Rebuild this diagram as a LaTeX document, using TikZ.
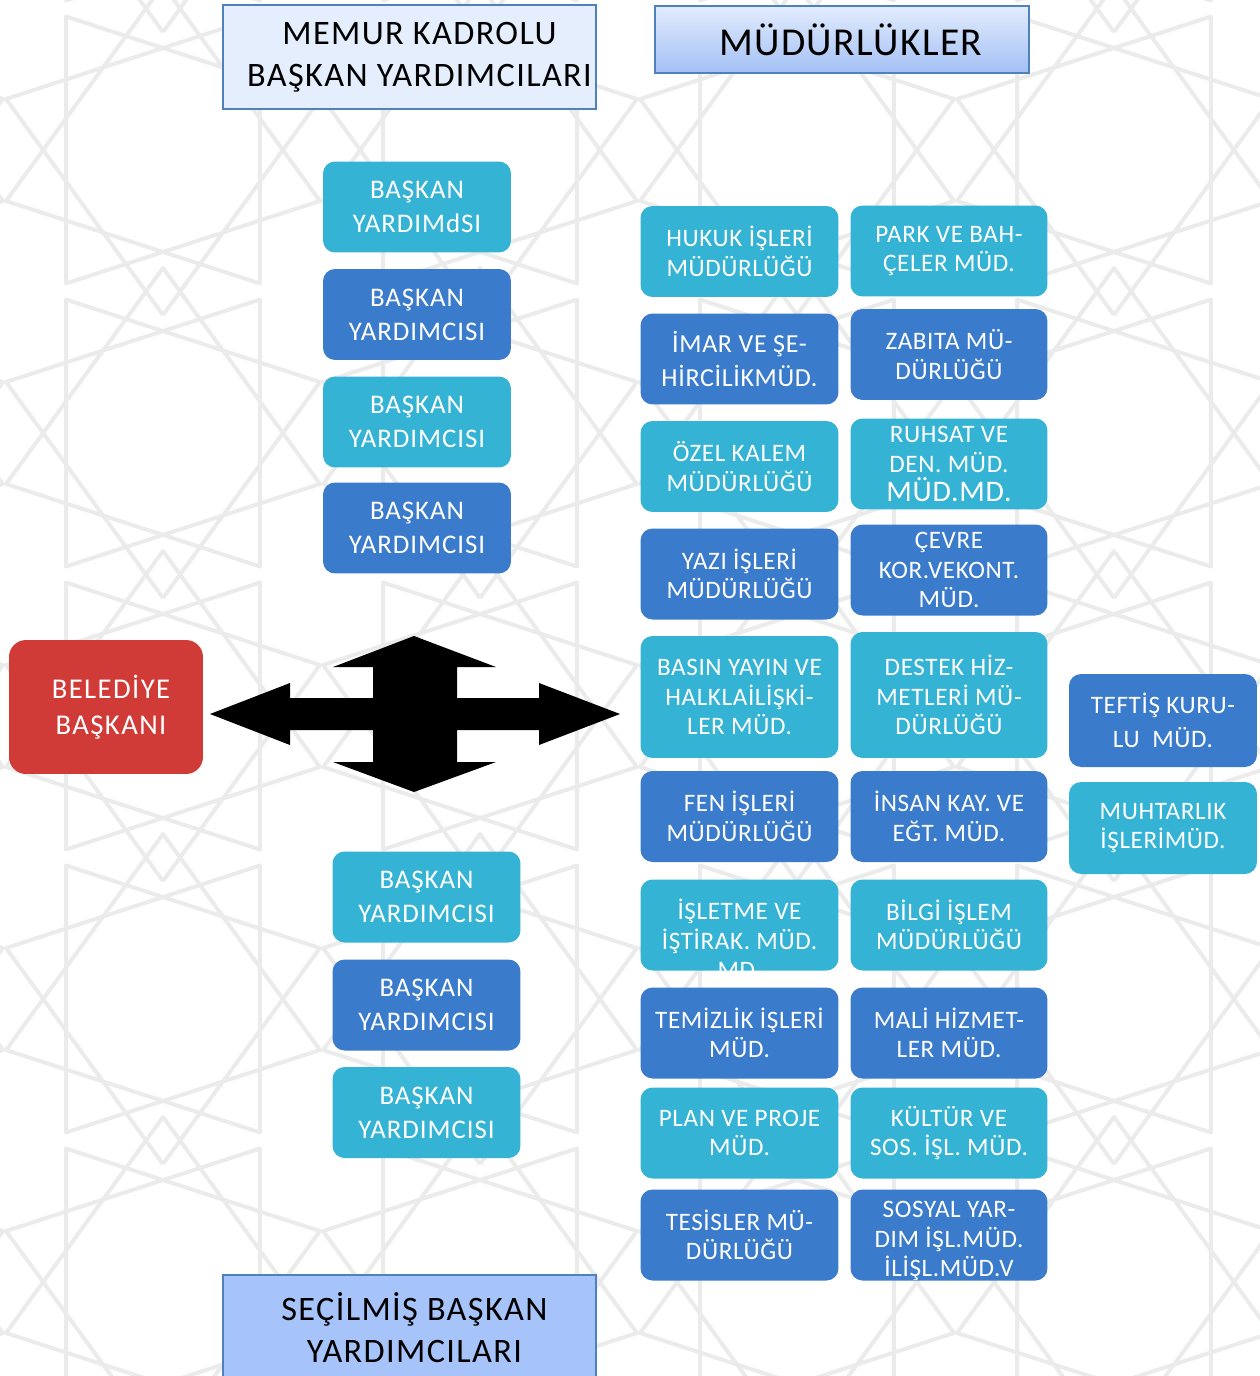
\documentclass[tikz,border=0pt]{standalone}
\usepackage{fontspec}
\setmainfont{Carlito}[LetterSpace=2.5]
\definecolor{mcyan}{HTML}{35B3D5}
\definecolor{mblue}{HTML}{3B7BCB}
\definecolor{mred}{HTML}{D03B38}
\definecolor{hdrline}{HTML}{4F81BD}
\definecolor{hdrfill}{HTML}{E4EEFD}
\definecolor{hdrtop}{HTML}{E2ECFD}
\definecolor{hdrbot}{HTML}{A3C0F4}
\definecolor{selfill}{HTML}{A6C4FA}
\definecolor{patgray}{HTML}{EBEBEB}
\tikzset{
  patline/.style={line width=0.08cm,patgray,line join=round},
  unit/.style={rounded corners=0.24cm,text=white,align=center,inner sep=0pt,
    minimum height=1.82cm,font=\fontsize{14.3}{16.8}\selectfont},
  cyanunit/.style={unit,fill=mcyan},
  blueunit/.style={unit,fill=mblue},
  colA/.style={minimum width=3.96cm},
  colB/.style={minimum width=3.94cm},
  colC/.style={minimum width=3.76cm},
  yard/.style={minimum width=3.76cm,font=\fontsize{15.3}{19.4}\selectfont\addfontfeatures{LetterSpace=3.5}},
  hdrbox/.style={draw=hdrline,line width=0.04cm,align=center,inner sep=0pt,
    font=\fontsize{19.5}{23.8}\selectfont\addfontfeatures{LetterSpace=4}}
}
\begin{document}
\begin{tikzpicture}[x=0.02cm,y=-0.02cm]
    \useasboundingbox (0,0) rectangle (1260,1376);
    \clip (0,0) rectangle (1260,1376);
    % Background pattern
    \foreach \px in {-154,163,480,797,1114,1431}
      \foreach \py in {-133,150,433,716,999,1282,1565}
        \draw[patline,shift={(\px,\py)}] (90:165) \foreach \k in {1,...,10} { -- ({90+108*\k}:165) };
    % Headers
    \node[hdrbox,fill=hdrfill,minimum width=7.46cm,minimum height=2.08cm] (memur) at (409.5,57) {\hspace*{0.4cm}MEMUR KADROLU\\\hspace*{0.4cm}BAŞKAN YARDIMCILARI};
    \node[hdrbox,top color=hdrtop,bottom color=hdrbot,minimum width=7.48cm,minimum height=1.34cm,
      font=\fontsize{22.5}{26}\selectfont\addfontfeatures{LetterSpace=3.5}] (mudur) at (842,39.5) {\hspace*{0.35cm}MÜDÜRLÜKLER};
    \node[hdrbox,fill=selfill,minimum width=7.46cm,minimum height=2.12cm] (secil) at (409.5,1328) {\hspace*{0.2cm}SEÇİLMİŞ BAŞKAN\\\hspace*{0.2cm}YARDIMCILARI};
    % Mayor
    \node[unit,fill=mred,rounded corners=0.34cm,minimum width=3.88cm,minimum height=2.68cm,
      font=\fontsize{16.3}{20.4}\selectfont\addfontfeatures{LetterSpace=5}] (baskan) at (106,707) {\hspace*{0.2cm}BELEDİYE\\\hspace*{0.2cm}BAŞKANI};
    % Cross arrow
    \fill[black] (210,714) -- (290,683) -- (290,698) -- (539,698) -- (539,683) -- (620,714)
      -- (539,745) -- (539,730) -- (290,730) -- (290,745) -- cycle;
    \fill[black] (414,636) -- (496,667) -- (457,667) -- (457,762) -- (496,762) -- (414,792)
      -- (333,762) -- (373,762) -- (373,667) -- (333,667) -- cycle;
    % Memur kadrolu deputies
    \node[cyanunit,yard] (by1) at (417,207) {BAŞKAN\\YARDIMdSI};
    \node[blueunit,yard] (by2) at (417,314.5) {BAŞKAN\\YARDIMCISI};
    \node[cyanunit,yard] (by3) at (417,422) {BAŞKAN\\YARDIMCISI};
    \node[blueunit,yard] (by4) at (417,528) {BAŞKAN\\YARDIMCISI};
    % Elected deputies
    \node[cyanunit,yard] (sy1) at (426.5,897) {BAŞKAN\\YARDIMCISI};
    \node[blueunit,yard] (sy2) at (426.5,1005) {BAŞKAN\\YARDIMCISI};
    \node[cyanunit,yard] (sy3) at (426.5,1112.5) {BAŞKAN\\YARDIMCISI};
    % Directorates, first column
    \node[cyanunit,colA] (hukuk) at (739.5,251.5) {HUKUK İŞLERİ\\MÜDÜRLÜĞÜ};
    \node[blueunit,colA,font=\fontsize{14.8}{18.8}\selectfont] (imar) at (739.5,359) {İMAR VE ŞE-\\HİRCİLİKMÜD.};
    \node[cyanunit,colA] (ozel) at (739.5,466.5) {ÖZEL KALEM\\MÜDÜRLÜĞÜ};
    \node[blueunit,colA] (yazi) at (739.5,574) {YAZI İŞLERİ\\MÜDÜRLÜĞÜ};
    \node[cyanunit,colA,minimum height=2.44cm] (basin) at (739.5,697) {BASIN YAYIN VE\\HALKLAİLİŞKİ-\\LER MÜD.};
    \node[blueunit,colA] (fen) at (739.5,816.5) {FEN İŞLERİ\\MÜDÜRLÜĞÜ};
    \node[cyanunit,colA] (isletme) at (739.5,925) {};
    \node[text=white,align=center,inner sep=0pt,font=\fontsize{14.3}{16.8}\selectfont] (isletmetxt) at (739.5,939) {İŞLETME VE\\İŞTİRAK. MÜD.\\MD.};
    \node[blueunit,colA] (temiz) at (739.5,1033) {TEMİZLİK İŞLERİ\\MÜD.};
    \node[cyanunit,colA] (plan) at (739.5,1133) {PLAN VE PROJE\\MÜD.};
    \node[blueunit,colA] (tesis) at (739.5,1235) {TESİSLER MÜ-\\DÜRLÜĞÜ};
    % Directorates, second column
    \node[cyanunit,colB] (park) at (949,251) {PARK VE BAH-\\ÇELER MÜD.};
    \node[blueunit,colB] (zabita) at (949,354.5) {ZABITA MÜ-\\DÜRLÜĞÜ};
    \node[cyanunit,colB] (ruhsat) at (949,464) {RUHSAT VE\\DEN. MÜD.\\{\fontsize{17}{18.5}\selectfont MÜD.MD.}};
    \node[blueunit,colB] (cevre) at (949,570) {ÇEVRE\\KOR.VEKONT.\\MÜD.};
    \node[cyanunit,colB,minimum height=2.52cm] (destek) at (949,695) {DESTEK HİZ-\\METLERİ MÜ-\\DÜRLÜĞÜ};
    \node[blueunit,colB] (insan) at (949,816.5) {İNSAN KAY. VE\\EĞT. MÜD.};
    \node[cyanunit,colB] (bilgi) at (949,925) {BİLGİ İŞLEM\\MÜDÜRLÜĞÜ};
    \node[blueunit,colB] (mali) at (949,1033) {MALİ HİZMET-\\LER MÜD.};
    \node[cyanunit,colB] (kultur) at (949,1133) {KÜLTÜR VE\\SOS. İŞL. MÜD.};
    \node[blueunit,colB] (sosyal) at (949,1235) {};
    \node[text=white,align=center,inner sep=0pt,font=\fontsize{14.3}{16.8}\selectfont] (sosyaltxt) at (949,1241) {SOSYAL YAR-\\DIM İŞL.MÜD.\\İLİŞL.MÜD.V};
    % Directorates, third column
    \node[blueunit,colC,minimum height=1.86cm,font=\fontsize{14.3}{19.4}\selectfont] (teftis) at (1163,720.5) {TEFTİŞ KURU-\\LU~~MÜD.};
    \node[cyanunit,colC,minimum height=1.84cm] (muhtar) at (1163,828) {MUHTARLIK\\İŞLERİMÜD.};
\end{tikzpicture}
\end{document}
